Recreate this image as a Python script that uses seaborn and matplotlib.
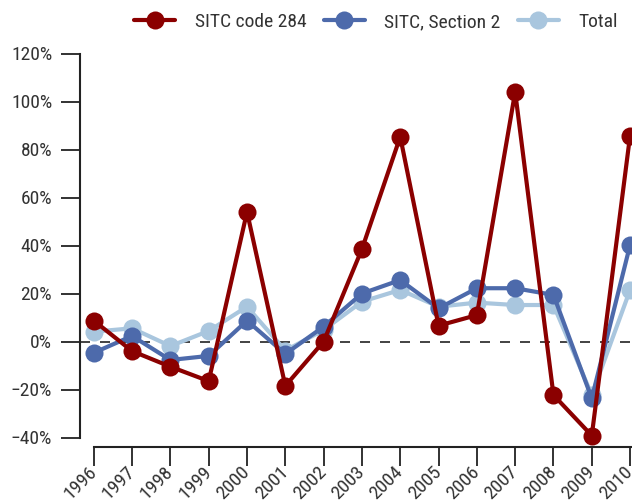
import pandas as pd
import numpy as np
import matplotlib.pyplot as plt
from matplotlib import font_manager
import seaborn as sns

# values (percent change)
years = list(range(1996, 2011))
sitc_284 = [8.7, -4.0, -10.5, -16.5, 54.0, -18.5, 0.0, 38.5, 85.3, 6.6, 11.0, 104.0, -22.3, -39.2, 85.8]
sitc_sec2 = [-4.7, 2.3, -7.7, -6.0, 8.7, -5.2, 6.2, 20.0, 25.6, 13.8, 22.2, 22.2, 19.4, -23.7, 40.2]
total = [4.1, 5.5, -1.9, 4.4, 14.5, -3.8, 4.8, 16.6, 21.5, 14.5, 16.2, 15.2, 15.2, -22.3, 21.5]

series_names = ["SITC code 284", "SITC, Section 2", "Total"]
colors = {"SITC code 284": "#8b0000", "SITC, Section 2": "#4d6aab", "Total": "#a9c6de"}

df = pd.DataFrame({
    "year": years * 3,
    "value": sitc_284 + sitc_sec2 + total,
    "series": [s for s in series_names for _ in years],
})

# narrow font if installed
installed = {f.name for f in font_manager.fontManager.ttflist}
font = "Roboto Condensed" if "Roboto Condensed" in installed else "Roboto"

sns.set_style("white")
plt.rcParams["font.family"] = [font, "DejaVu Sans"]
text_col = "#333333"

fig = plt.figure(figsize=(6.32, 5.04), dpi=100)
ax = fig.add_axes([80 / 632, 66.5 / 504, (632 - 80) / 632, 384 / 504])

# draw lightest first so the red series ends up on top
for name in reversed(series_names):
    sns.lineplot(data=df[df["series"] == name], x="year", y="value", ax=ax,
                 color=colors[name], linewidth=3, marker="o", markersize=13,
                 markeredgewidth=0, label=name, clip_on=False)

handles, labels = ax.get_legend_handles_labels()
ax.get_legend().remove()

ax.axhline(0, color="#222222", linewidth=1.2, dashes=(6, 6), zorder=0)

ax.set_xlim(1995.64, 2010.05)
ax.set_ylim(-40, 120)
ax.set_yticks(np.arange(-40, 121, 20))
ax.set_yticklabels([f"{v}%".replace("-", "\u2212") for v in range(-40, 121, 20)])
ax.set_xlabel("")
ax.set_ylabel("")

for s in ["top", "right"]:
    ax.spines[s].set_visible(False)
for s in ["left", "bottom"]:
    ax.spines[s].set_color("#222222")
    ax.spines[s].set_linewidth(1.5)
ax.spines["bottom"].set_position(("outward", 7))
ax.spines["bottom"].set_bounds(1996, 2010.2)

ax.tick_params(axis="both", bottom=True, left=True, length=14, width=1.3,
               color="#222222", labelsize=14, labelcolor=text_col, pad=6)
ax.tick_params(axis="x", pad=2)
ax.set_xticks(years, labels=[str(y) for y in years], rotation=45,
              ha="right", va="center", rotation_mode="anchor")

order = [labels.index(n) for n in series_names]
fig.legend([handles[i] for i in order], series_names, loc="center",
           bbox_to_anchor=(376 / 632, 1 - 22 / 504), ncol=3, frameon=False,
           fontsize=14, labelcolor=text_col, handlelength=2.1,
           handletextpad=1.0, columnspacing=0.9)

plt.savefig("out.png", dpi=100)
